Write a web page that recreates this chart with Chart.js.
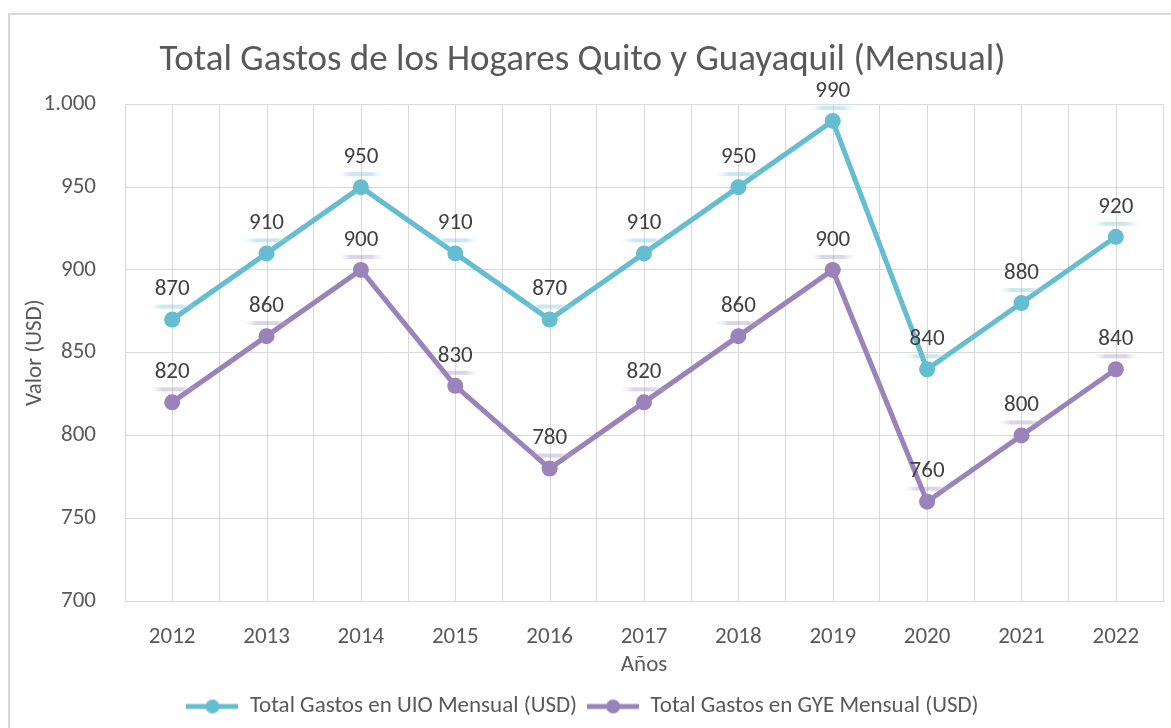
<!DOCTYPE html>
<html>
<head>
<meta charset="utf-8">
<script src="https://cdn.jsdelivr.net/npm/chart.js@4.4.1/dist/chart.umd.min.js"></script>
<style>
  html, body { margin: 0; padding: 0; background: #ffffff; overflow: hidden; }
  #wrap { position: relative; width: 1171px; height: 728px; }
  #frame { position: absolute; left: 8px; top: 13px; width: 1200px; height: 800px; border: 2px solid #D9D9D9; box-sizing: border-box; }
  canvas { position: absolute; left: 0; top: 0; }
</style>
</head>
<body>
<div id="wrap">
  <div id="frame"></div>
  <canvas id="c" width="1171" height="728"></canvas>
</div>
<script>
const categories = ['2012','2013','2014','2015','2016','2017','2018','2019','2020','2021','2022'];
const uioValues = [870, 910, 950, 910, 870, 910, 950, 990, 840, 880, 920];
const gyeValues = [820, 860, 900, 830, 780, 820, 860, 900, 760, 800, 840];
const seriesNames = ['Total Gastos en UIO Mensual (USD)', 'Total Gastos en GYE Mensual (USD)'];
const chartTitle = 'Total Gastos de los Hogares Quito y Guayaquil (Mensual)';
const yTitle = 'Valor (USD)';
const xTitle = 'Años';

const FONT = "Carlito, Lato, 'Noto Sans', sans-serif";
const UIO_COLOR = '#65BDD2';
const GYE_COLOR = '#9A83BA';
const TEXT = '#595959';
const GRID = '#D9D9D9';

function legendIcon(color) {
  const c = document.createElement('canvas');
  c.width = 52; c.height = 16;
  const g = c.getContext('2d');
  g.strokeStyle = color; g.lineWidth = 5;
  g.beginPath(); g.moveTo(0, 8); g.lineTo(52, 8); g.stroke();
  g.fillStyle = color;
  g.beginPath(); g.arc(26, 8, 7, 0, Math.PI * 2); g.fill();
  return c;
}

const centerGrid = {
  id: 'centerGrid',
  beforeDatasetsDraw(chart) {
    const {ctx, chartArea, scales} = chart;
    ctx.save();
    ctx.strokeStyle = GRID; ctx.lineWidth = 1;
    categories.forEach((c, i) => {
      const x = Math.round(scales.x.getPixelForValue(i)) + 0.5;
      ctx.beginPath(); ctx.moveTo(x, chartArea.top); ctx.lineTo(x, chartArea.bottom); ctx.stroke();
    });
    ctx.restore();
  }
};

const dataLabels = {
  id: 'dataLabels',
  afterDatasetsDraw(chart) {
    const ctx = chart.ctx;
    ctx.save();
    chart.data.datasets.forEach((ds, di) => {
      const meta = chart.getDatasetMeta(di);
      meta.data.forEach((pt, i) => {
        const sy = pt.y - 13;
        const grad = ctx.createLinearGradient(pt.x - 26, 0, pt.x + 26, 0);
        grad.addColorStop(0, 'rgba(255,255,255,0)');
        grad.addColorStop(0.3, ds.shadowColor);
        grad.addColorStop(0.7, ds.shadowColor);
        grad.addColorStop(1, 'rgba(255,255,255,0)');
        ctx.fillStyle = grad;
        ctx.fillRect(pt.x - 26, sy - 2, 52, 4);
        ctx.fillStyle = '#404040';
        ctx.font = "23px " + FONT;
        ctx.textAlign = 'center';
        ctx.textBaseline = 'middle';
        ctx.fillText(String(ds.data[i]), pt.x, pt.y - 30);
      });
    });
    ctx.restore();
  }
};

new Chart(document.getElementById('c'), {
  type: 'line',
  data: {
    labels: categories,
    datasets: [
      { label: seriesNames[0], data: uioValues, borderColor: UIO_COLOR, backgroundColor: UIO_COLOR,
        borderWidth: 5, pointRadius: 8, pointHoverRadius: 8, pointBackgroundColor: UIO_COLOR, pointBorderWidth: 0,
        tension: 0, pointStyle: 'circle', shadowColor: 'rgba(101,189,210,0.35)' },
      { label: seriesNames[1], data: gyeValues, borderColor: GYE_COLOR, backgroundColor: GYE_COLOR,
        borderWidth: 5, pointRadius: 8, pointHoverRadius: 8, pointBackgroundColor: GYE_COLOR, pointBorderWidth: 0,
        tension: 0, pointStyle: 'circle', shadowColor: 'rgba(154,131,186,0.35)' }
    ]
  },
  options: {
    responsive: false,
    animation: false,
    devicePixelRatio: 1,
    layout: { padding: { top: 0, right: 6, bottom: 0, left: 0 } },
    plugins: {
      title: {
        display: true, text: chartTitle, color: TEXT,
        font: { family: FONT, size: 37, weight: 'normal' },
        padding: { top: 39, bottom: 21 }
      },
      legend: {
        position: 'bottom',
        labels: {
          color: TEXT, font: { family: FONT, size: 23 },
          usePointStyle: true, pointStyleWidth: 52, boxHeight: 16, padding: 10,
          generateLabels(chart) {
            return chart.data.datasets.map((ds, i) => ({
              text: ds.label, fontColor: TEXT, pointStyle: legendIcon(ds.borderColor),
              fillStyle: ds.borderColor, strokeStyle: ds.borderColor, lineWidth: 0, hidden: false, datasetIndex: i
            }));
          }
        }
      },
      tooltip: { enabled: false }
    },
    scales: {
      x: {
        type: 'category',
        offset: true,
        grid: { color: GRID, offset: true, drawTicks: false },
        border: { color: GRID },
        ticks: { color: TEXT, font: { family: FONT, size: 23 }, padding: 22, maxRotation: 0 },
        title: { display: true, text: xTitle, color: TEXT, font: { family: FONT, size: 23 }, padding: { top: 0, bottom: 6 } },
        afterFit(s) { s.height = 84; }
      },
      y: {
        min: 700, max: 1000,
        grid: { color: GRID, drawTicks: false },
        border: { color: GRID },
        ticks: {
          stepSize: 50, color: TEXT, font: { family: FONT, size: 23 }, padding: 29,
          callback(v) { return String(v).replace(/\B(?=(\d{3})+(?!\d))/g, '.'); }
        },
        title: { display: true, text: yTitle, color: TEXT, font: { family: FONT, size: 23 }, padding: { top: 21, bottom: 0 } },
        afterFit(s) { s.width = 125; }
      }
    }
  },
  plugins: [centerGrid, dataLabels]
});
</script>
</body>
</html>
